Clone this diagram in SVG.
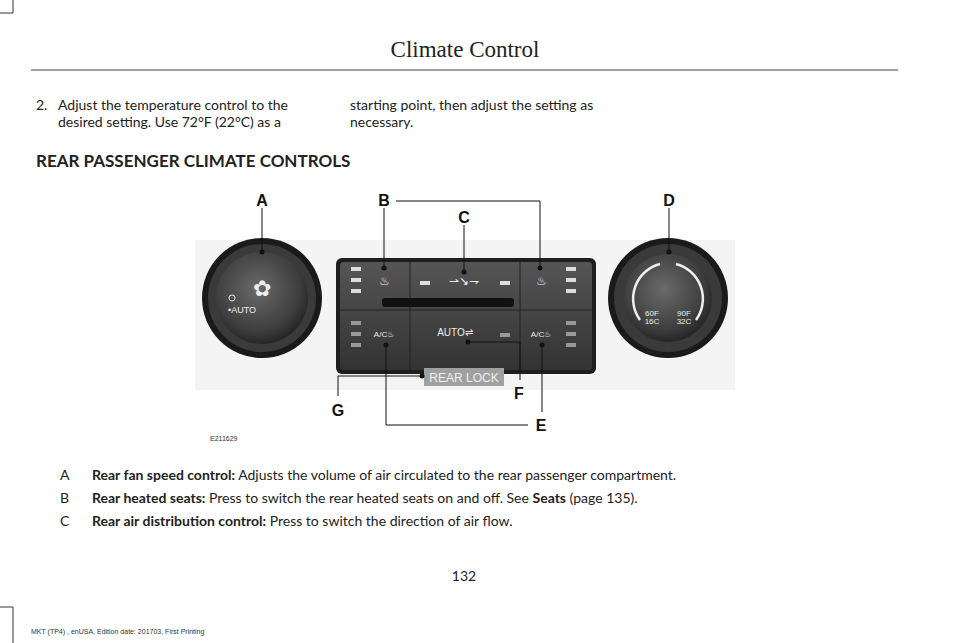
<svg xmlns="http://www.w3.org/2000/svg" width="960" height="643" viewBox="0 0 960 643">
<style>
.t{font-family:"Lato","Liberation Sans",sans-serif;font-size:14px;fill:#222}
.b{font-weight:bold}
.lbl{font-family:"Liberation Sans",Arial,sans-serif;font-weight:bold;font-size:16px;fill:#111;text-anchor:middle}
.ln{stroke:#111;stroke-width:1;fill:none}
.cm{stroke:#333;stroke-width:1;fill:none}
.w{fill:#eee;font-family:"Liberation Sans",sans-serif}
</style>
<defs>
<radialGradient id="knob" cx="0.45" cy="0.4" r="0.65"><stop offset="0" stop-color="#6a6a6a"/><stop offset="0.7" stop-color="#3e3e3e"/><stop offset="1" stop-color="#1e1e1e"/></radialGradient>
<linearGradient id="pan" x1="0" y1="0" x2="0" y2="1"><stop offset="0" stop-color="#555"/><stop offset="1" stop-color="#333"/></linearGradient>
</defs>
<path class="cm" d="M0 13H13V0M0 607H13V643"/>
<text x="465" y="57" text-anchor="middle" style="font-family:'Liberation Serif',serif;font-size:23px;fill:#222">Climate Control</text>
<line x1="31" y1="70" x2="898" y2="70" stroke="#444" stroke-width="1"/>
<text class="t" x="36" y="110">2.</text>
<text class="t" x="58" y="110">Adjust the temperature control to the</text>
<text class="t" x="58" y="127">desired setting. Use 72°F (22°C) as a</text>
<text class="t" x="350" y="110">starting point, then adjust the setting as</text>
<text class="t" x="350" y="127">necessary.</text>
<text class="t b" x="36" y="167" style="font-size:17px">REAR PASSENGER CLIMATE CONTROLS</text>
<g id="illustration">
<rect x="195" y="240" width="540" height="150" fill="#f4f4f4"/>
<g id="knobA"><circle cx="262" cy="298" r="60" fill="#1a1a1a"/><circle cx="262" cy="298" r="54" fill="#3a3a3a"/><circle cx="262" cy="298" r="46" fill="url(#knob)"/>
<text x="262" y="296" text-anchor="middle" class="w" font-size="22">✿</text><circle cx="232" cy="298" r="3" fill="none" stroke="#eee"/><text x="228" y="313" class="w" font-size="9">•AUTO</text></g>
<g id="panel"><rect x="336" y="258" width="260" height="116" rx="6" fill="#1e1e1e"/><rect x="340" y="262" width="252" height="108" rx="4" fill="url(#pan)"/>
<line x1="410" y1="262" x2="410" y2="370" stroke="#222"/><line x1="520" y1="262" x2="520" y2="370" stroke="#222"/>
<rect x="382" y="298" width="132" height="9" rx="3" fill="#111"/><line x1="340" y1="310" x2="592" y2="310" stroke="#222"/>
<g fill="#ddd"><rect x="351" y="267" width="10" height="4"/><rect x="351" y="278" width="10" height="4"/><rect x="351" y="289" width="10" height="4"/><rect x="566" y="267" width="10" height="4"/><rect x="566" y="278" width="10" height="4"/><rect x="566" y="289" width="10" height="4"/><rect x="420" y="281" width="10" height="4"/><rect x="500" y="281" width="10" height="4"/>
<rect x="351" y="321" width="10" height="4" fill="#999"/><rect x="351" y="332" width="10" height="4" fill="#999"/><rect x="351" y="343" width="10" height="4" fill="#999"/><rect x="566" y="321" width="10" height="4" fill="#999"/><rect x="566" y="332" width="10" height="4" fill="#999"/><rect x="566" y="343" width="10" height="4" fill="#999"/><rect x="500" y="333" width="10" height="4" fill="#999"/></g>
<text x="384" y="285" class="w" font-size="12" text-anchor="middle">♨</text><text x="541" y="285" class="w" font-size="12" text-anchor="middle">♨</text>
<text x="464" y="285" class="w" font-size="12" text-anchor="middle">⇀↘⇁</text>
<text x="384" y="337" class="w" font-size="8" text-anchor="middle">A/C♨</text><text x="541" y="337" class="w" font-size="8" text-anchor="middle">A/C♨</text>
<text x="455" y="336" class="w" font-size="10" text-anchor="middle">AUTO⇌</text></g>
<g id="knobD"><circle cx="668" cy="298" r="60" fill="#1a1a1a"/><circle cx="668" cy="298" r="54" fill="#3a3a3a"/><circle cx="668" cy="298" r="44" fill="url(#knob)"/>
<path d="M640 320A36 36 0 0 1 660 264M676 264A36 36 0 0 1 696 320" stroke="#eee" stroke-width="2.5" fill="none"/>
<text x="652" y="316" class="w" font-size="8" text-anchor="middle">60F</text><text x="652" y="324" class="w" font-size="8" text-anchor="middle">16C</text><text x="684" y="316" class="w" font-size="8" text-anchor="middle">90F</text><text x="684" y="324" class="w" font-size="8" text-anchor="middle">32C</text></g>
<g id="rearlock"><rect x="424" y="368" width="80" height="18" fill="#a0a0a0"/><text x="464" y="382" class="w" font-size="12" text-anchor="middle">REAR LOCK</text></g>
</g>
<g id="connectors">
<path class="ln" d="M262 208V252M384 208V268M396 201H540V268M464 225V272M669 208V252M542 345V412M468 342H520V380M386 345V425H528M422 376H338V396"/>
<g fill="#111"><circle cx="262" cy="252" r="2.5"/><circle cx="384" cy="268" r="2.5"/><circle cx="540" cy="268" r="2.5"/><circle cx="464" cy="272" r="2.5"/><circle cx="669" cy="252" r="2.5"/><circle cx="542" cy="345" r="2.5"/><circle cx="468" cy="342" r="2.5"/><circle cx="386" cy="345" r="2.5"/><circle cx="422" cy="376" r="2.5"/></g>
</g>
<g id="labels">
<text class="lbl" x="262" y="206">A</text><text class="lbl" x="384" y="206">B</text><text class="lbl" x="464" y="223">C</text><text class="lbl" x="669" y="206">D</text><text class="lbl" x="541" y="431">E</text><text class="lbl" x="519" y="399">F</text><text class="lbl" x="338" y="416">G</text>
</g>
<text x="210" y="441" style="font-family:'Liberation Sans',sans-serif;font-size:7px;fill:#333">E211629</text>
<text class="t" x="60" y="480">A</text><text class="t" x="92" y="480"><tspan class="b">Rear fan speed control:</tspan> Adjusts the volume of air circulated to the rear passenger compartment.</text>
<text class="t" x="60" y="503">B</text><text class="t" x="92" y="503"><tspan class="b">Rear heated seats:</tspan> Press to switch the rear heated seats on and off.  See <tspan class="b">Seats</tspan> (page 135).</text>
<text class="t" x="60" y="526">C</text><text class="t" x="92" y="526"><tspan class="b">Rear air distribution control:</tspan> Press to switch the direction of air flow.</text>
<text class="t" x="464" y="581" text-anchor="middle">132</text>
<text x="31" y="634" style="font-family:'Liberation Sans',sans-serif;font-size:7px;fill:#333">MKT (TP4) , enUSA, Edition date: 201703, First Printing</text>
</svg>
